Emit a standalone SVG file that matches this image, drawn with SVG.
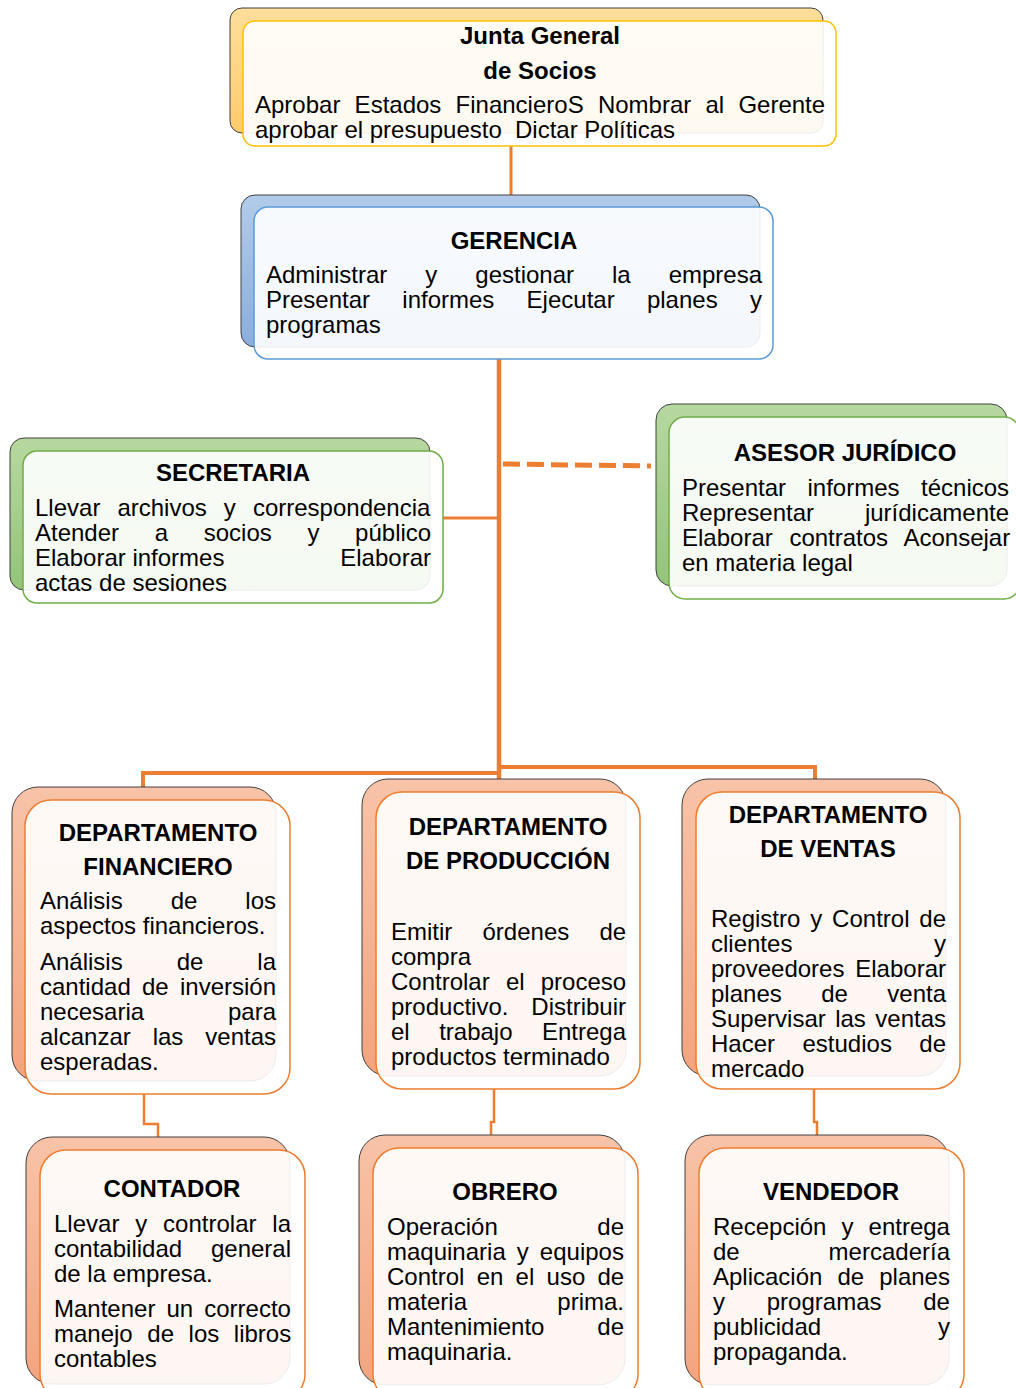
<svg xmlns="http://www.w3.org/2000/svg" width="1016" height="1388" viewBox="0 0 1016 1388">
<defs>
<linearGradient id="gGold" x1="0" y1="0" x2="0" y2="1"><stop offset="0" stop-color="#FFDE9B"/><stop offset="1" stop-color="#FFCC6C"/></linearGradient>
<linearGradient id="gBlue" x1="0" y1="0" x2="0" y2="1"><stop offset="0" stop-color="#B2CBEA"/><stop offset="1" stop-color="#8AAEDD"/></linearGradient>
<linearGradient id="gGreen" x1="0" y1="0" x2="0" y2="1"><stop offset="0" stop-color="#B6D8A0"/><stop offset="1" stop-color="#94C479"/></linearGradient>
<linearGradient id="gOrange" x1="0" y1="0" x2="0" y2="1"><stop offset="0" stop-color="#F8C3A8"/><stop offset="1" stop-color="#F2A47E"/></linearGradient>
</defs>
<style>
.back{stroke:#404040;stroke-width:1}
.front{fill:#FFFFFF;fill-opacity:0.9;stroke-width:1.5}
.t{font-family:"Liberation Sans",Arial,sans-serif;font-weight:bold;font-size:24px;fill:#000;text-anchor:middle}
.b{font-family:"Liberation Sans",Arial,sans-serif;font-size:24px;fill:#000}
.e{text-anchor:end}
.c{fill:none;stroke:#ED7D31;stroke-width:3}
</style>
<g id="connectors">
<line class="c" x1="511" y1="146" x2="511" y2="196"/>
<line class="c" x1="499" y1="358" x2="499" y2="780" style="stroke-width:4.5"/>
<line class="c" x1="442" y1="518" x2="499" y2="518"/>
<line class="c" x1="503" y1="464" x2="651" y2="466" style="stroke-width:5;stroke-dasharray:17 7"/>
<polyline class="c" points="497,773 143,773 143,788" style="stroke-width:4"/>
<polyline class="c" points="497,767 815,767 815,780" style="stroke-width:4"/>
<polyline class="c" points="144,1093 144,1124 158,1124 158,1138" style="stroke-width:2.5"/>
<polyline class="c" points="494,1088 494,1122 491,1122 491,1136" style="stroke-width:2.5"/>
<polyline class="c" points="814,1088 814,1122 817,1122 817,1136" style="stroke-width:2.5"/>
</g>
<g id="junta">
<rect class="back" x="230" y="8" width="593" height="125" rx="12" fill="url(#gGold)"/>
<rect class="front" x="243" y="21" width="593" height="125" rx="12" stroke="#FFC000"/>
<text class="t" x="540" y="44">Junta General</text>
<text class="t" x="540" y="79">de Socios</text>
<text class="b" x="255" y="113" word-spacing="7.57">Aprobar Estados FinancieroS Nombrar al Gerente</text>
<text class="b" x="255" y="138">aprobar el presupuesto</text>
<text class="b" x="515" y="138">Dictar Políticas</text>
</g>
<g id="gerencia">
<rect class="back" x="241" y="195" width="519" height="152" rx="14" fill="url(#gBlue)"/>
<rect class="front" x="254" y="207" width="519" height="152" rx="14" stroke="#5B9BD5"/>
<text class="t" x="514" y="249">GERENCIA</text>
<text class="b" x="266" y="283" word-spacing="31.3">Administrar y gestionar la empresa</text>
<text class="b" x="266" y="308" word-spacing="25.6">Presentar informes Ejecutar planes y</text>
<text class="b" x="266" y="333">programas</text>
</g>
<g id="secretaria">
<rect class="back" x="10" y="438" width="420" height="152" rx="14" fill="url(#gGreen)"/>
<rect class="front" x="23" y="451" width="420" height="152" rx="14" stroke="#70AD47"/>
<text class="t" x="233" y="481">SECRETARIA</text>
<text class="b" x="35" y="516" word-spacing="10.4">Llevar archivos y correspondencia</text>
<text class="b" x="35" y="541" word-spacing="29">Atender a socios y público</text>
<text class="b" x="35" y="566">Elaborar informes</text>
<text class="b e" x="431" y="566">Elaborar</text>
<text class="b" x="35" y="591">actas de sesiones</text>
</g>
<g id="asesor">
<rect class="back" x="656" y="404" width="351" height="182" rx="16" fill="url(#gGreen)"/>
<rect class="front" x="669" y="417" width="351" height="182" rx="16" stroke="#70AD47"/>
<text class="t" x="845" y="461">ASESOR JURÍDICO</text>
<text class="b" x="682" y="496" word-spacing="14.8">Presentar informes técnicos</text>
<text class="b" x="682" y="521">Representar</text>
<text class="b e" x="1009" y="521">jurídicamente</text>
<text class="b" x="682" y="546" word-spacing="10">Elaborar contratos Aconsejar</text>
<text class="b" x="682" y="571">en materia legal</text>
</g>
<g id="financiero">
<rect class="back" x="12" y="787" width="264" height="294" rx="26" fill="url(#gOrange)"/>
<rect class="front" x="25" y="800" width="265" height="294" rx="26" stroke="#ED7D31"/>
<text class="t" x="158" y="841">DEPARTAMENTO</text>
<text class="t" x="158" y="875">FINANCIERO</text>
<text class="b" x="40" y="909" word-spacing="41.3">Análisis de los</text>
<text class="b" x="40" y="934">aspectos financieros.</text>
<text class="b" x="40" y="970" word-spacing="47.3">Análisis de la</text>
<text class="b" x="40" y="995" word-spacing="4.6">cantidad de inversión</text>
<text class="b" x="40" y="1020">necesaria</text>
<text class="b e" x="276" y="1020">para</text>
<text class="b" x="40" y="1045" word-spacing="15.3">alcanzar las ventas</text>
<text class="b" x="40" y="1070">esperadas.</text>
</g>
<g id="produccion">
<rect class="back" x="362" y="779" width="264" height="297" rx="26" fill="url(#gOrange)"/>
<rect class="front" x="376" y="792" width="264" height="297" rx="26" stroke="#ED7D31"/>
<text class="t" x="508" y="835">DEPARTAMENTO</text>
<text class="t" x="508" y="869">DE PRODUCCIÓN</text>
<text class="b" x="391" y="940" word-spacing="23.5">Emitir órdenes de</text>
<text class="b" x="391" y="965">compra</text>
<text class="b" x="391" y="990" word-spacing="9.5">Controlar el proceso</text>
<text class="b" x="391" y="1015">productivo.</text>
<text class="b e" x="626" y="1015">Distribuir</text>
<text class="b" x="391" y="1040" word-spacing="22.8">el trabajo Entrega</text>
<text class="b" x="391" y="1065">productos terminado</text>
</g>
<g id="ventas">
<rect class="back" x="682" y="779" width="264" height="297" rx="26" fill="url(#gOrange)"/>
<rect class="front" x="696" y="792" width="264" height="297" rx="26" stroke="#ED7D31"/>
<text class="t" x="828" y="823">DEPARTAMENTO</text>
<text class="t" x="828" y="857">DE VENTAS</text>
<text class="b" x="711" y="927" word-spacing="3.2">Registro y Control de</text>
<text class="b" x="711" y="952">clientes</text>
<text class="b e" x="946" y="952">y</text>
<text class="b" x="711" y="977">proveedores</text>
<text class="b e" x="946" y="977">Elaborar</text>
<text class="b" x="711" y="1002" word-spacing="32.8">planes de venta</text>
<text class="b" x="711" y="1027" word-spacing="2.8">Supervisar las ventas</text>
<text class="b" x="711" y="1052" word-spacing="20.8">Hacer estudios de</text>
<text class="b" x="711" y="1077">mercado</text>
</g>
<g id="contador">
<rect class="back" x="26" y="1137" width="264" height="247" rx="26" fill="url(#gOrange)"/>
<rect class="front" x="40" y="1150" width="265" height="250" rx="26" stroke="#ED7D31"/>
<text class="t" x="172" y="1197">CONTADOR</text>
<text class="b" x="54" y="1232" word-spacing="9.2">Llevar y controlar la</text>
<text class="b" x="54" y="1257">contabilidad</text>
<text class="b e" x="291" y="1257">general</text>
<text class="b" x="54" y="1282">de la empresa.</text>
<text class="b" x="54" y="1317" word-spacing="4.4">Mantener un correcto</text>
<text class="b" x="54" y="1342" word-spacing="7.9">manejo de los libros</text>
<text class="b" x="54" y="1367">contables</text>
</g>
<g id="obrero">
<rect class="back" x="359" y="1135" width="266" height="250" rx="26" fill="url(#gOrange)"/>
<rect class="front" x="373" y="1148" width="265" height="252" rx="26" stroke="#ED7D31"/>
<text class="t" x="505" y="1200">OBRERO</text>
<text class="b" x="387" y="1235">Operación</text>
<text class="b e" x="624" y="1235">de</text>
<text class="b" x="387" y="1260" word-spacing="4.4">maquinaria y equipos</text>
<text class="b" x="387" y="1285" word-spacing="5.6">Control en el uso de</text>
<text class="b" x="387" y="1310">materia</text>
<text class="b e" x="624" y="1310">prima.</text>
<text class="b" x="387" y="1335">Mantenimiento</text>
<text class="b e" x="624" y="1335">de</text>
<text class="b" x="387" y="1360">maquinaria.</text>
</g>
<g id="vendedor">
<rect class="back" x="685" y="1135" width="264" height="250" rx="26" fill="url(#gOrange)"/>
<rect class="front" x="699" y="1148" width="265" height="252" rx="26" stroke="#ED7D31"/>
<text class="t" x="831" y="1200">VENDEDOR</text>
<text class="b" x="713" y="1235" word-spacing="8.4">Recepción y entrega</text>
<text class="b" x="713" y="1260">de</text>
<text class="b e" x="950" y="1260">mercadería</text>
<text class="b" x="713" y="1285" word-spacing="8.4">Aplicación de planes</text>
<text class="b" x="713" y="1310" word-spacing="35.1">y programas de</text>
<text class="b" x="713" y="1335">publicidad</text>
<text class="b e" x="950" y="1335">y</text>
<text class="b" x="713" y="1360">propaganda.</text>
</g>
</svg>
